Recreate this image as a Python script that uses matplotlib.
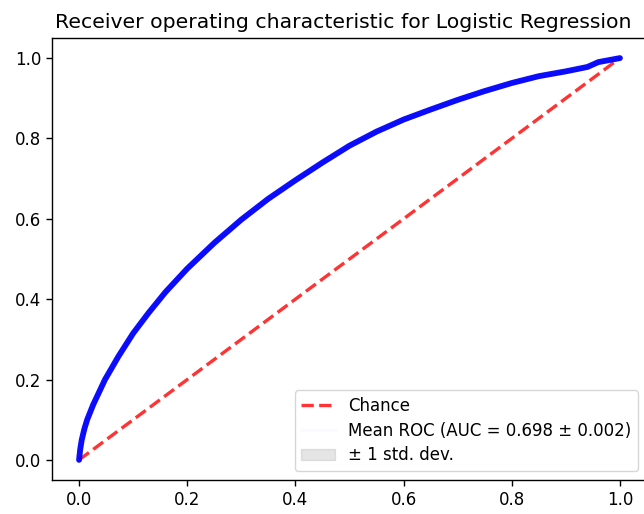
import matplotlib
matplotlib.use("Agg")
import matplotlib.pyplot as plt
import numpy as np

# mean ROC
FPR = [0.0, 0.002, 0.005, 0.010, 0.015, 0.026, 0.048, 0.073, 0.100, 0.128,
       0.160, 0.200, 0.250, 0.300, 0.350, 0.400, 0.450, 0.500, 0.550,
       0.600, 0.650, 0.700, 0.750, 0.800, 0.850, 0.900, 0.940, 0.960, 1.0]
TPR = [0.0, 0.025, 0.050, 0.078, 0.100, 0.137, 0.200, 0.258, 0.315, 0.365,
       0.418, 0.476, 0.540, 0.598, 0.650, 0.696, 0.740, 0.782, 0.817,
       0.847, 0.872, 0.896, 0.918, 0.938, 0.955, 0.967, 0.978, 0.990, 1.0]
STD_TPR = 0.003
MEAN_AUC = 0.698
STD_AUC = 0.002
TITLE = "Receiver operating characteristic for Logistic Regression"


def main():
    fpr = np.array(FPR)
    tpr = np.array(TPR)

    fig = plt.figure(figsize=(6.44, 5.14), dpi=100)
    ax = fig.add_axes([52 / 644, 34 / 514, 595 / 644, 442 / 514])

    ax.plot([0, 1], [0, 1], linestyle="--", lw=2.4, color="r", alpha=0.8,
            label="Chance")
    # fold curves overlap into one thick blue band
    ax.plot(fpr, tpr, color="b", lw=4.2, alpha=0.95,
            solid_joinstyle="round", solid_capstyle="round")
    ax.plot(fpr, tpr, color="b", lw=2.4, alpha=0.02,
            label="Mean ROC (AUC = %0.3f \u00b1 %0.3f)" % (MEAN_AUC, STD_AUC))
    ax.fill_between(fpr, np.maximum(tpr - STD_TPR, 0), np.minimum(tpr + STD_TPR, 1),
                    color="grey", alpha=0.2, label="\u00b1 1 std. dev.")

    ax.set_xlim(-0.05, 1.05)
    ax.set_ylim(-0.05, 1.05)
    ax.set_xticks([0.0, 0.2, 0.4, 0.6, 0.8, 1.0])
    ax.set_yticks([0.0, 0.2, 0.4, 0.6, 0.8, 1.0])
    ax.tick_params(labelsize=12, length=4.2, width=1.0)
    for sp in ax.spines.values():
        sp.set_linewidth(1.0)
    ax.set_title(TITLE, fontsize=14.7, pad=7.2, x=0.4895)
    ax.legend(loc="lower right", fontsize=12, borderaxespad=0.55,
              labelspacing=0.4)

    fig.savefig("out.png", dpi=100)


if __name__ == "__main__":
    main()
